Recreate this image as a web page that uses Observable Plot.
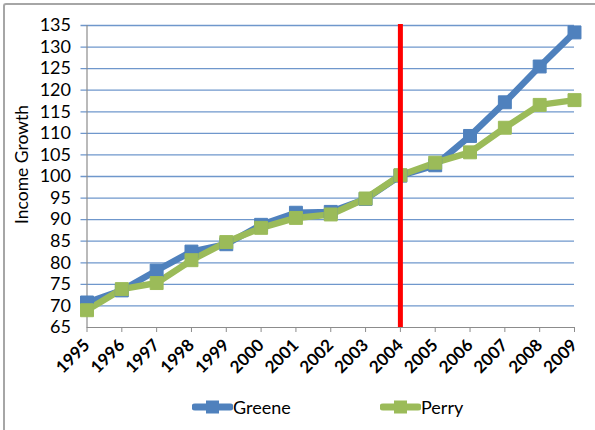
<!DOCTYPE html>
<html>
<head>
<meta charset="utf-8">
<script src="https://cdn.jsdelivr.net/npm/d3@7"></script>
<script src="https://cdn.jsdelivr.net/npm/@observablehq/plot@0.6"></script>
<style>
  html, body { margin: 0; padding: 0; background: #fff; }
  #wrap { position: relative; width: 595px; height: 430px; overflow: hidden; font-family: Lato, "Open Sans", sans-serif; }
  #border { position: absolute; left: 3px; top: 3px; width: 600px; height: 440px; border-left: 2px solid #a6a6a6; border-top: 2px solid #a6a6a6; border-top-left-radius: 3px; pointer-events: none; }
  #chart { position: absolute; left: 0; top: 0; }
  #legend { position: absolute; left: 0; top: 395px; width: 595px; height: 24px; }
  .item { position: absolute; top: 0; display: flex; align-items: center; font-size: 18px; color: #000; }
</style>
</head>
<body>
<div id="wrap">
  <div id="chart"></div>
  <div id="legend"></div>
  <div id="border"></div>
</div>
<script>
const years = [1995, 1996, 1997, 1998, 1999, 2000, 2001, 2002, 2003, 2004, 2005, 2006, 2007, 2008, 2009];
const greene = [70.8, 73.6, 78.2, 82.6, 84.3, 88.8, 91.6, 91.8, 94.8, 100.2, 102.6, 109.4, 117.2, 125.5, 133.4];
const perry  = [69.0, 73.9, 75.3, 80.6, 84.8, 88.1, 90.4, 91.2, 94.9, 100.3, 103.2, 105.6, 111.3, 116.6, 117.7];
const seriesNames = ["Greene", "Perry"];
const seriesColors = ["#4F81BD", "#9BBB59"];
const markerYear = [2004];
const yTicks = d3.range(65, 136, 5);
const yLabel = "Income Growth";

const rows = [];
years.forEach((yr, i) => {
  rows.push({year: yr, value: greene[i], series: seriesNames[0]});
  rows.push({year: yr, value: perry[i], series: seriesNames[1]});
});

const plot = Plot.plot({
  width: 595,
  height: 385,
  marginLeft: 86.5,
  marginRight: 21,
  marginTop: 25,
  marginBottom: 58,
  style: {fontFamily: "Lato, 'Open Sans', sans-serif", fontSize: "18px", color: "#000", background: "transparent"},
  x: {type: "linear", domain: [1995, 2009]},
  y: {domain: [65, 135]},
  color: {domain: seriesNames, range: seriesColors},
  marks: [
    Plot.ruleY(yTicks.filter(d => d > 65), {stroke: "#6f97cc", strokeWidth: 1.3, x1: 1995, x2: 2009, insetLeft: -6}),
    Plot.axisY({ticks: yTicks, tickSize: 0, tickPadding: 16, label: null, fontSize: 18}),
    Plot.axisX({ticks: years, tickFormat: "d", tickSize: 5, tickPadding: 10, tickRotate: -45, label: null, fontWeight: "bold", fontSize: 17, stroke: "#8c8c8c"}),
    Plot.ruleX([1995], {stroke: "#8c8c8c", strokeWidth: 1.2}),
    Plot.ruleY([65], {stroke: "#8c8c8c", strokeWidth: 1.2}),
    Plot.line(rows, {x: "year", y: "value", z: "series", stroke: "series", strokeWidth: 6.5}),
    Plot.dot(rows, {x: "year", y: "value", fill: "series", stroke: "series", symbol: "square", r: 7.3, strokeWidth: 1}),
    Plot.ruleX(markerYear, {stroke: "#FF0000", strokeWidth: 5, insetTop: -1}),
    Plot.text([yLabel], {frameAnchor: "left", textAnchor: "middle", lineAnchor: "middle", dx: -65, dy: -12, rotate: -90, fontSize: 17.5, fill: "#000"})
  ]
});
document.getElementById("chart").appendChild(plot);

const legend = document.getElementById("legend");
const lx = [192, 380];
seriesNames.forEach((name, i) => {
  const div = document.createElement("div");
  div.className = "item";
  div.style.left = lx[i] + "px";
  const c = seriesColors[i];
  div.innerHTML = `<svg width="41" height="24"><line x1="3" x2="38" y1="12" y2="12" stroke="${c}" stroke-width="7" stroke-linecap="round"/><rect x="14" y="5.5" width="13" height="13" fill="${c}"/></svg><span>${name}</span>`;
  legend.appendChild(div);
});
</script>
</body>
</html>
